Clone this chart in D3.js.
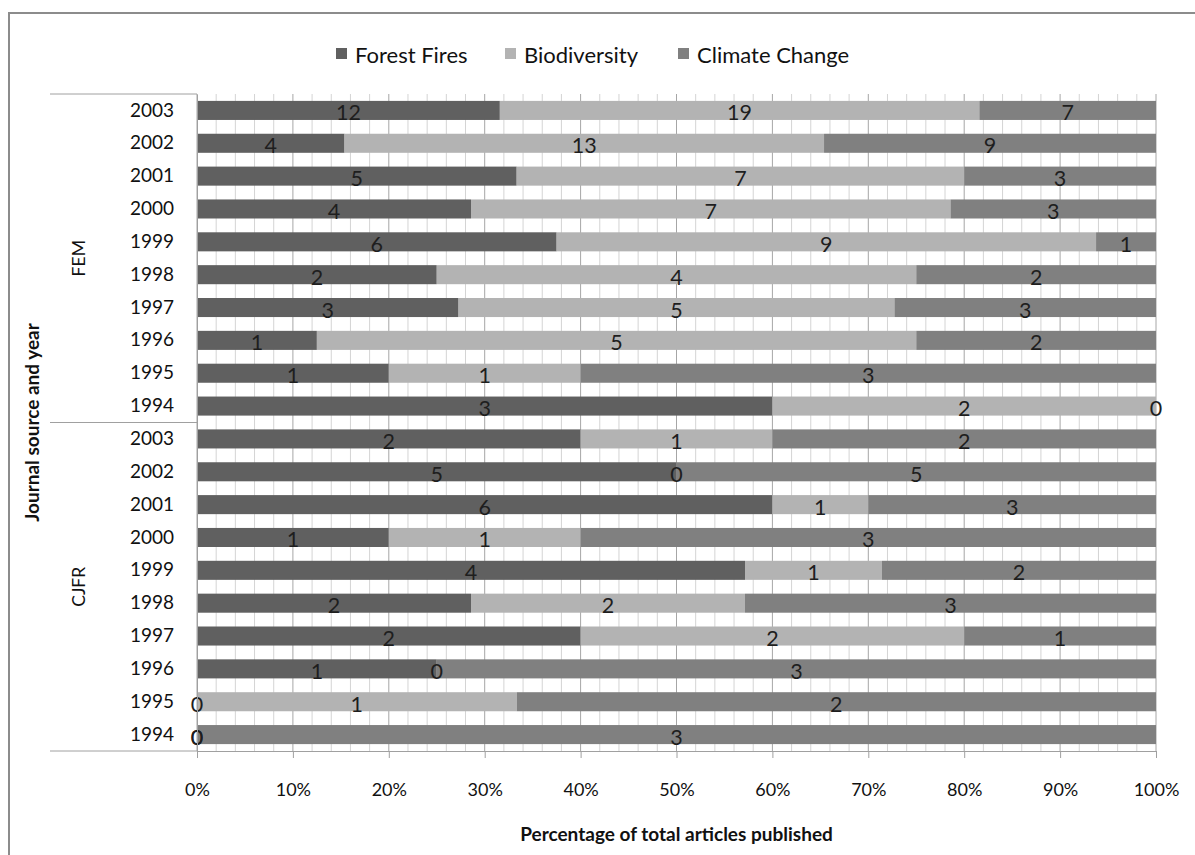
<!DOCTYPE html>
<html>
<head>
<meta charset="utf-8">
<script src="https://cdn.jsdelivr.net/npm/d3@7"></script>
<style>
  html, body { margin: 0; padding: 0; background: #fff; }
  svg { display: block; font-family: Lato, "Open Sans", sans-serif; }
</style>
</head>
<body>
<svg id="chart" width="1195" height="855"></svg>
<script>
// Journal article counts by topic, years listed top to bottom within each journal
const journals = ["FEM", "CJFR"];
const years = ["2003", "2002", "2001", "2000", "1999", "1998", "1997", "1996", "1995", "1994"];
const seriesNames = ["Forest Fires", "Biodiversity", "Climate Change"];

const femForestFires    = [12, 4, 5, 4, 6, 2, 3, 1, 1, 3];
const femBiodiversity   = [19, 13, 7, 7, 9, 4, 5, 5, 1, 2];
const femClimateChange  = [7, 9, 3, 3, 1, 2, 3, 2, 3, 0];

const cjfrForestFires   = [2, 5, 6, 1, 4, 2, 2, 1, 0, 0];
const cjfrBiodiversity  = [1, 0, 1, 1, 1, 2, 2, 0, 1, 0];
const cjfrClimateChange = [2, 5, 3, 3, 2, 3, 1, 3, 2, 3];

const xTickValues = [0, 0.1, 0.2, 0.3, 0.4, 0.5, 0.6, 0.7, 0.8, 0.9, 1];

const colors = {
  "Forest Fires": "#606060",
  "Biodiversity": "#b3b3b3",
  "Climate Change": "#808080"
};

const seriesByJournal = {
  FEM:  [femForestFires, femBiodiversity, femClimateChange],
  CJFR: [cjfrForestFires, cjfrBiodiversity, cjfrClimateChange]
};

// One record per bar
const rows = [];
journals.forEach(j => {
  years.forEach((yr, i) => {
    const r = { key: j + "-" + yr, journal: j, year: yr };
    seriesNames.forEach((s, k) => { r[s] = seriesByJournal[j][k][i]; });
    rows.push(r);
  });
});

const svg = d3.select("#chart");

// Outer chart frame (top and left edges)
svg.append("path")
  .attr("d", "M9,855 L9,13 L1195,13")
  .attr("fill", "none")
  .attr("stroke", "#8c8c8c")
  .attr("stroke-width", 2);

const plot = { left: 197, right: 1156, top: 94, bottom: 751 };

const x = d3.scaleLinear().domain([0, 1]).range([plot.left, plot.right]);
const y = d3.scaleBand()
  .domain(rows.map(d => d.key))
  .range([plot.top, plot.bottom])
  .paddingInner(0.42)
  .paddingOuter(0.21);

// Gridlines: minor every 2 %, major every 10 %
const minor = d3.range(0, 51).map(i => i / 50);
svg.append("g").selectAll("line")
  .data(minor.filter((d, i) => i % 5 !== 0))
  .join("line")
  .attr("x1", d => x(d)).attr("x2", d => x(d))
  .attr("y1", plot.top).attr("y2", plot.bottom)
  .attr("stroke", "#d4d4d4").attr("stroke-width", 1);

svg.append("g").selectAll("line")
  .data(xTickValues)
  .join("line")
  .attr("x1", d => x(d)).attr("x2", d => x(d))
  .attr("y1", plot.top).attr("y2", plot.bottom)
  .attr("stroke", "#a6a6a6").attr("stroke-width", 1);

// 100 % stacked bars
const stack = d3.stack().keys(seriesNames).offset(d3.stackOffsetExpand);
const stacked = stack(rows);

const barG = svg.append("g");
stacked.forEach(layer => {
  barG.append("g")
    .attr("fill", colors[layer.key])
    .selectAll("rect")
    .data(layer)
    .join("rect")
    .attr("x", d => x(d[0]))
    .attr("y", d => y(d.data.key))
    .attr("width", d => Math.max(0, x(d[1]) - x(d[0])))
    .attr("height", y.bandwidth());
});

// Count labels centred on each segment
const labelG = svg.append("g")
  .attr("font-size", 21.5)
  .attr("fill", "#1e1e1e")
  .attr("text-anchor", "middle");
stacked.forEach(layer => {
  labelG.append("g")
    .selectAll("text")
    .data(layer)
    .join("text")
    .attr("x", d => x((d[0] + d[1]) / 2))
    .attr("y", d => y(d.data.key) + y.bandwidth() / 2 + 2)
    .attr("dominant-baseline", "central")
    .text(d => d.data[layer.key]);
});

// X axis
const xAxis = d3.axisBottom(x)
  .tickValues(xTickValues)
  .tickFormat(d3.format(".0%"))
  .tickSizeInner(7)
  .tickSizeOuter(0)
  .tickPadding(25);

const xg = svg.append("g")
  .attr("transform", `translate(0,${plot.bottom})`)
  .call(xAxis);
xg.select(".domain").attr("stroke", "#a0a0a0");
xg.selectAll(".tick line").attr("stroke", "#a0a0a0");
xg.selectAll(".tick text")
  .attr("font-family", "Lato, sans-serif")
  .attr("font-size", 18)
  .attr("fill", "#111");

// Y axis with year labels
const yAxis = d3.axisLeft(y)
  .tickFormat(k => k.split("-")[1])
  .tickSize(0)
  .tickPadding(23);

const yg = svg.append("g")
  .attr("transform", `translate(${plot.left},0)`)
  .call(yAxis);
yg.select(".domain").attr("stroke", "#a0a0a0");
yg.selectAll(".tick text")
  .attr("font-family", "Lato, sans-serif")
  .attr("font-size", 19)
  .attr("fill", "#111");

// Group separators for the journal level of the category axis
const groupEdges = [plot.top, y(rows[10].key) - y.step() * y.paddingInner() / 2, plot.bottom];
svg.append("g").selectAll("line")
  .data(groupEdges)
  .join("line")
  .attr("x1", 50).attr("x2", plot.left)
  .attr("y1", d => d).attr("y2", d => d)
  .attr("stroke", "#a0a0a0");

// Journal group labels
journals.forEach((j, gi) => {
  const yMid = (groupEdges[gi] + groupEdges[gi + 1]) / 2;
  svg.append("text")
    .attr("transform", `translate(85,${yMid}) rotate(-90)`)
    .attr("text-anchor", "middle")
    .attr("font-size", 17.5)
    .attr("fill", "#111")
    .text(j);
});

// Axis titles
svg.append("text")
  .attr("x", (plot.left + plot.right) / 2)
  .attr("y", 841)
  .attr("text-anchor", "middle")
  .attr("font-size", 19)
  .attr("font-weight", 700)
  .attr("fill", "#111")
  .text("Percentage of total articles published");

svg.append("text")
  .attr("transform", `translate(39,${(plot.top + plot.bottom) / 2}) rotate(-90)`)
  .attr("text-anchor", "middle")
  .attr("font-size", 19)
  .attr("font-weight", 700)
  .attr("fill", "#111")
  .text("Journal source and year");

// Legend
const legendX = [336, 505, 678];
const legend = svg.append("g");
seriesNames.forEach((s, i) => {
  legend.append("rect")
    .attr("x", legendX[i]).attr("y", 48)
    .attr("width", 11).attr("height", 11)
    .attr("fill", colors[s]);
  legend.append("text")
    .attr("x", legendX[i] + 19).attr("y", 54)
    .attr("dominant-baseline", "central")
    .attr("font-size", 22)
    .attr("fill", "#111")
    .text(s);
});
</script>
</body>
</html>
